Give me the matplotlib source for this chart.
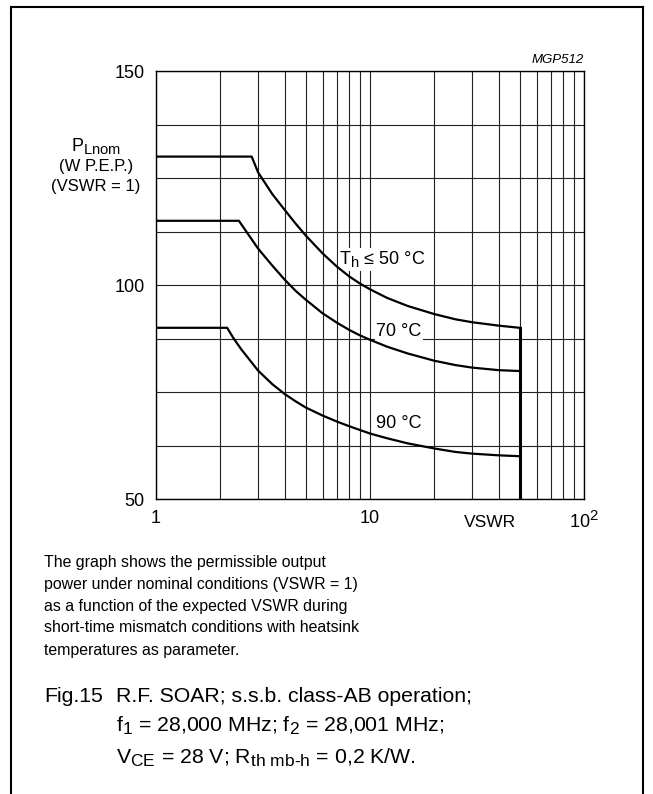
import numpy as np
import matplotlib
matplotlib.use('Agg')
import matplotlib.pyplot as plt
import matplotlib._mathtext as mathtext_mod
from matplotlib.lines import Line2D

plt.rcParams['font.family'] = ['Liberation Sans', 'DejaVu Sans']
plt.rcParams['mathtext.fontset'] = 'custom'
plt.rcParams['mathtext.rm'] = 'Liberation Sans'
plt.rcParams['mathtext.it'] = 'Liberation Sans:italic'
# subindices algo mas grandes, como en la hoja de datos
mathtext_mod.SHRINK_FACTOR = 0.82

# Datos (VSWR, P_Lnom en W P.E.P.)
vswr_50 = [1, 2.8, 3, 3.5, 4, 4.5, 5, 6, 7, 8, 9, 10, 12, 15, 20, 25, 30, 40, 50]
p_50 = [130, 130, 126.3, 121.2, 117.5, 114.3, 111.6, 107.4, 104.3, 102.0, 100.3,
        99.0, 97.0, 95.1, 93.2, 92.0, 91.3, 90.5, 90.0]

vswr_70 = [1, 2.44, 3, 3.5, 4, 4.5, 5, 6, 7, 8, 9, 10, 12, 15, 20, 25, 30, 40, 50]
p_70 = [115, 115, 108.5, 104.5, 101.2, 98.6, 96.6, 93.4, 91.2, 89.5, 88.2,
        87.2, 85.6, 84.0, 82.3, 81.3, 80.7, 80.1, 79.9]

vswr_90 = [1, 2.15, 2.3, 2.5, 3, 3.5, 4, 4.5, 5, 6, 7, 8, 9, 10, 12, 15, 20, 25, 30, 40, 50]
p_90 = [90, 90, 87.6, 85.0, 80.0, 76.8, 74.5, 72.8, 71.4, 69.5, 68.1, 67.0, 66.1,
        65.3, 64.2, 63.0, 61.8, 61.0, 60.6, 60.2, 60.0]

vswr_max = 50
y_major = [50, 100, 150]
y_minor = [62.5, 75, 87.5, 112.5, 125, 137.5]
x_major = [1, 10, 100]
x_labels = ['1', '10', '10$^2$']

W, H = 653, 794
fig = plt.figure(figsize=(W / 100, H / 100), dpi=100)
ax = fig.add_axes([156 / W, 1 - 499 / H, 428 / W, 428 / H])

ax.set_xscale('log')
ax.set_xlim(1, 100)
ax.set_ylim(50, 150)

# Curvas
for xs, ys in [(vswr_50, p_50), (vswr_70, p_70), (vswr_90, p_90)]:
    ax.plot(xs, ys, color='black', lw=1.6, solid_joinstyle='round', zorder=3)
ax.plot([vswr_max, vswr_max], [50, p_50[-1]], color='black', lw=2.2, zorder=3)

# Rejilla
ax.set_xticks(x_major)
ax.set_xticklabels(x_labels)
ax.set_xticks([m * d for d in (1, 10) for m in range(2, 10)], minor=True)
ax.set_xticklabels([], minor=True)
ax.set_yticks(y_major)
ax.set_yticks(y_minor, minor=True)
ax.grid(which='both', color='#222222', lw=0.8)
ax.tick_params(which='both', length=0, labelsize=13, pad=8)
for s in ax.spines.values():
    s.set_linewidth(1.0)

# Etiquetas de curvas
box = dict(fc='white', ec='none', pad=1)
ax.text(7.17, 106.0, 'T$_{\\rm h}$ ≤ 50 °C', fontsize=13, ha='left', va='center', bbox=box, zorder=2)
ax.text(10.67, 89.25, '70 °C', fontsize=13, ha='left', va='center', bbox=box, zorder=2)
ax.text(10.67, 67.75, '90 °C', fontsize=13, ha='left', va='center', bbox=box, zorder=2)

# Ejes
ax.text(0.78, -0.055, 'VSWR', transform=ax.transAxes, fontsize=12.5, ha='center', va='center')
lx = -0.14
ax.text(lx, 0.825, 'P$_{\\rm Lnom}$', transform=ax.transAxes, fontsize=13, ha='center', va='center')
ax.text(lx, 0.776, '(W P.E.P.)', transform=ax.transAxes, fontsize=12, ha='center', va='center')
ax.text(lx, 0.729, '(VSWR = 1)', transform=ax.transAxes, fontsize=12, ha='center', va='center')
fig.text(584 / W, 1 - 60 / H, 'MGP512', fontsize=9.5, style='italic', ha='right', va='center')

# Texto descriptivo
desc = ['The graph shows the permissible output',
        'power under nominal conditions (VSWR = 1)',
        'as a function of the expected VSWR during',
        'short-time mismatch conditions with heatsink',
        'temperatures as parameter.']
for i, line in enumerate(desc):
    fig.text(44 / W, 1 - (562 + 22 * i) / H, line, fontsize=11.4, ha='left', va='center')

fig.text(44 / W, 1 - 696 / H, 'Fig.15', fontsize=15.3, ha='left', va='center')
fig.text(116 / W, 1 - 696 / H, 'R.F. SOAR; s.s.b. class-AB operation;', fontsize=15.3, ha='left', va='center')
fig.text(116 / W, 1 - 726 / H, 'f$_1$ = 28,000 MHz; f$_2$ = 28,001 MHz;', fontsize=15.3, ha='left', va='center')
fig.text(116 / W, 1 - 758 / H, 'V$_{\\rm CE}$ = 28 V; R$_{\\rm th\\ mb\\text{-}h}$ = 0,2 K/W.',
         fontsize=15.3, ha='left', va='center')

# Marco
for (x0, y0), (x1, y1) in [((11, 7), (11, H)), ((11, 7), (643, 7)), ((643, 7), (643, H))]:
    fig.add_artist(Line2D([x0 / W, x1 / W], [1 - y0 / H, 1 - y1 / H], color='black', lw=1.5))

plt.savefig('out.png', dpi=100)
